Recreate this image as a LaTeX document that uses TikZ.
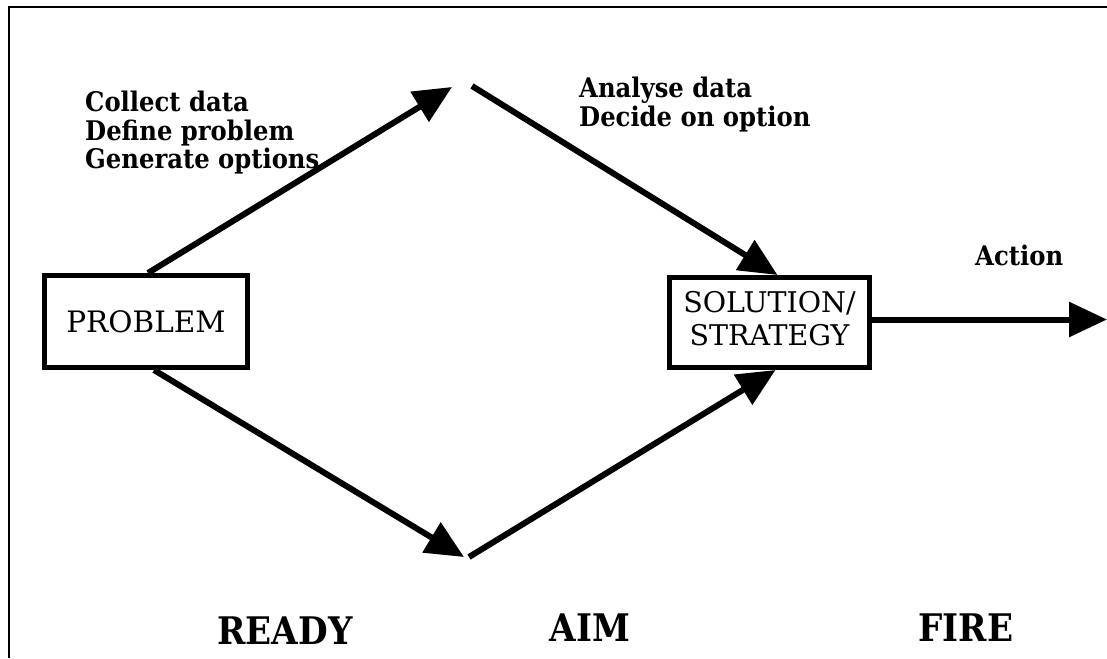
\documentclass[tikz,border=0pt]{standalone}
\usepackage{fontspec}
\setmainfont{DejaVu Serif}
\IfFontExistsTF{DejaVu Serif Condensed}
  {\newfontfamily\headfont{DejaVu Serif Condensed}}
  {\newfontfamily\headfont{DejaVu Serif}[Scale=0.88]}
\usetikzlibrary{arrows.meta,calc}
\begin{document}
\begin{tikzpicture}[x=1pt,y=-1pt,
  box/.style={draw,line width=5pt,inner sep=0pt,font=\fontsize{29.5}{33}\selectfont,align=center},
  arr/.style={line width=6pt,-{Triangle[length=38pt,width=34pt]}},
  note/.style={font=\headfont\bfseries\fontsize{27}{28.5}\selectfont,align=left,inner sep=0pt},
  stage/.style={font=\headfont\bfseries\fontsize{38}{42}\selectfont,inner sep=0pt}]
\useasboundingbox (0,0) rectangle (1107,658);
% frame edges
\draw[line width=2.5pt] (9,658) -- (9,7) -- (1107,7);
% boxes
\node[box,minimum width=203pt,minimum height=92pt] (prob) at (146,321.5) {PROBLEM};
\node[box,minimum width=200pt,minimum height=90pt,text depth=9pt,
      font=\fontsize{28.5}{33}\selectfont] (sol) at (769.5,322.5) {SOLUTION/\\STRATEGY};
% apex coordinates
\coordinate (topL) at (452,87);
\coordinate (topR) at (472,86);
\coordinate (botL) at (464,557);
\coordinate (botR) at (469,557);
\coordinate (act) at (1107,319.5);
% connectors
\draw[arr] ($(prob.north)+(2,0)$) -- (topL);
\draw[arr] (topR) -- ($(sol.north)+(8,0)$);
\draw[arr] ($(prob.south)+(8,0)$) -- (botL);
\draw[arr] (botR) -- ($(sol.south)+(6,0)$);
\draw[arr] ($(sol.east)+(0,-3)$) -- (act);
% labels
\node[note,anchor=north west] (t1) at (85,91) {Collect data\\Define problem\\Generate options};
\node[note,anchor=north west] (t2) at (579,77) {Analyse data\\Decide on option};
\node[note,anchor=north west] (t3) at (975,245) {Action};
\node[stage] (s1) at (285,631) {READY};
\node[stage] (s2) at (590,628) {AIM};
\node[stage] (s3) at (966,628) {FIRE};
\end{tikzpicture}
\end{document}
